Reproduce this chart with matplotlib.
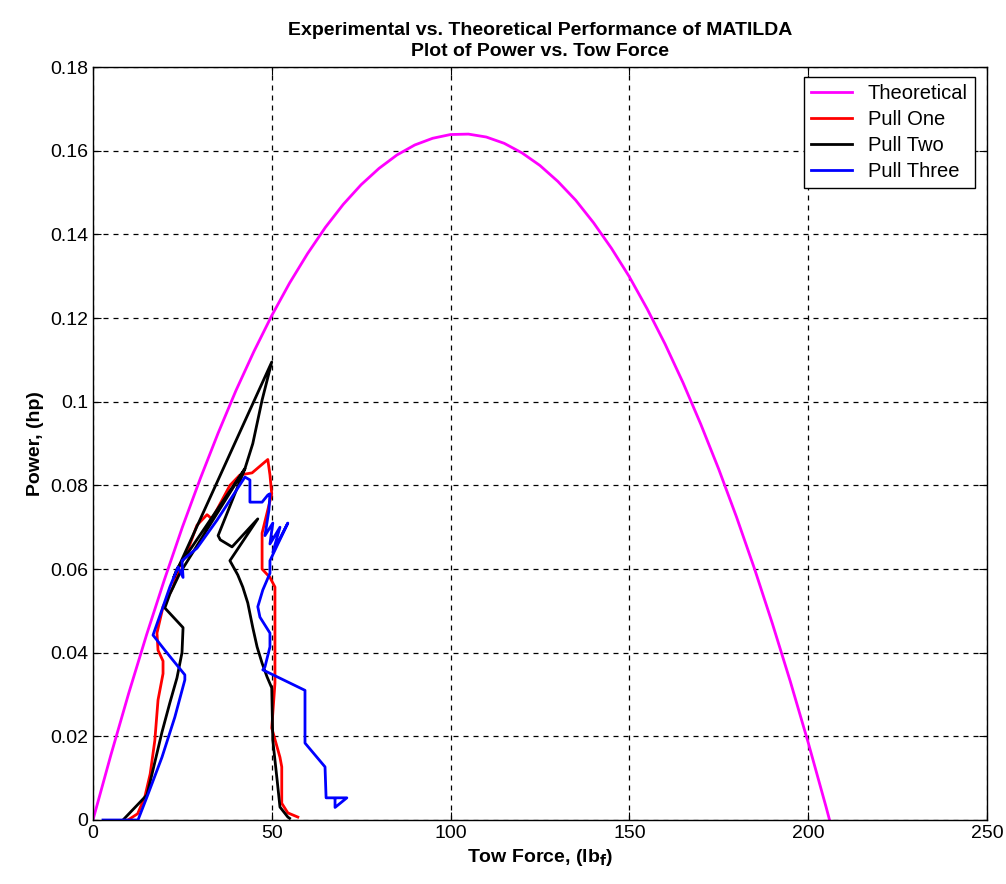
import matplotlib
matplotlib.use("Agg")
import matplotlib.pyplot as plt

plt.rcParams['font.family'] = ['Liberation Sans', 'DejaVu Sans']

# Theoretical curve
theo_force = [0, 5, 10, 15, 20, 25, 30, 35, 40, 45, 50, 55, 60, 65, 70, 75, 80, 85, 90, 95,
              100, 105, 110, 115, 120, 125, 130, 135, 140, 145, 150, 155, 160, 165, 170,
              175, 180, 185, 190, 195, 200, 205, 206]
theo_power = [0.0, 0.0155, 0.0303, 0.0443, 0.0575, 0.0700, 0.0816, 0.0925, 0.1027, 0.1120,
              0.1206, 0.1284, 0.1354, 0.1417, 0.1472, 0.1519, 0.1558, 0.1590, 0.1614, 0.1630,
              0.1639, 0.1640, 0.1633, 0.1618, 0.1595, 0.1565, 0.1527, 0.1482, 0.1428, 0.1367,
              0.1299, 0.1222, 0.1138, 0.1046, 0.0946, 0.0839, 0.0724, 0.0601, 0.0470, 0.0332,
              0.0186, 0.0032, 0.0]

# Pull one (red)
one_force = [9.8, 12.5, 14.5, 16.0, 17.3, 18.2, 19.6, 19.6, 18.2, 17.9, 19.6, 22.4, 24.3,
             26.3, 29.1, 31.9, 33.3, 38.3, 41.1, 44.5, 48.9, 49.5, 50.0, 47.3, 47.3, 49.5,
             50.9, 50.9, 50.0, 52.3, 52.8, 52.8, 54.5, 57.3]
one_power = [0.0, 0.0015, 0.0055, 0.011, 0.019, 0.0287, 0.035, 0.038, 0.0406, 0.0447, 0.051,
             0.0557, 0.061, 0.064, 0.0705, 0.073, 0.072, 0.080, 0.0825, 0.083, 0.0862, 0.0825,
             0.078, 0.0686, 0.060, 0.058, 0.0557, 0.0327, 0.022, 0.015, 0.0127, 0.004, 0.0017,
             0.0007]

# Pull two (black)
two_force = [8.4, 15.1, 16.8, 19.3, 21.5, 23.5, 24.9, 25.2, 20.1, 21.5, 24.3, 42.5, 44.7,
             47.3, 50.0, 22.6, 23.5, 42.5, 35.0, 35.6, 38.9, 46.1, 38.3, 40.5, 41.9, 43.3,
             44.7, 45.9, 47.3, 48.7, 50.0, 50.3, 51.5, 52.3, 54.5, 55.0]
two_power = [0.0, 0.006, 0.012, 0.021, 0.028, 0.034, 0.040, 0.046, 0.0507, 0.054, 0.059,
             0.084, 0.090, 0.1004, 0.1095, 0.058, 0.060, 0.084, 0.068, 0.067, 0.0653, 0.072,
             0.062, 0.0586, 0.0557, 0.0519, 0.046, 0.0414, 0.0375, 0.0342, 0.0316, 0.019,
             0.0096, 0.0031, 0.0007, 0.0004]

# Pull three (blue)
three_force = [2.8, 12.6, 15.1, 19.3, 22.9, 25.7, 25.7, 20.1, 16.8, 19.6, 21.5, 23.8, 25.2,
               24.9, 29.1, 34.7, 42.5, 43.9, 43.9, 47.3, 48.9, 49.5, 49.2, 48.1, 50.3, 49.5,
               52.3, 50.3, 54.5, 49.5, 49.5, 47.5, 46.1, 46.7, 49.5, 49.5, 48.1, 47.5, 59.3,
               59.3, 64.9, 65.2, 71.0, 67.7, 67.7]
three_power = [0.0, 0.0, 0.0055, 0.015, 0.0246, 0.0335, 0.0347, 0.0406, 0.0442, 0.051, 0.0557,
               0.0605, 0.058, 0.062, 0.065, 0.0717, 0.082, 0.0813, 0.076, 0.076, 0.0777, 0.078,
               0.074, 0.068, 0.071, 0.066, 0.070, 0.064, 0.071, 0.062, 0.059, 0.055, 0.051,
               0.0485, 0.0447, 0.0414, 0.0366, 0.0359, 0.031, 0.0184, 0.0127, 0.0053, 0.0053,
               0.003, 0.0048]

fig = plt.figure(figsize=(10.06, 8.84), dpi=100)
ax = fig.add_axes([0.0924, 0.0724, 0.8886, 0.8516])

lw = 2.0
ax.plot(theo_force, theo_power, color='#ff00ff', lw=lw, label='Theoretical')
ax.plot(one_force, one_power, color='#ff0000', lw=lw, label='Pull One')
ax.plot(two_force, two_power, color='black', lw=lw, label='Pull Two')
ax.plot(three_force, three_power, color='#0000ff', lw=lw, label='Pull Three')

ax.set_xlim(0, 250)
ax.set_ylim(0, 0.18)
ax.set_xticks([0, 50, 100, 150, 200, 250])
ax.set_yticks([0, 0.02, 0.04, 0.06, 0.08, 0.1, 0.12, 0.14, 0.16, 0.18])
ax.set_yticklabels(['0', '0.02', '0.04', '0.06', '0.08', '0.1', '0.12', '0.14', '0.16', '0.18'])
ax.grid(True, color='black', linestyle=(0, (4, 4)), linewidth=0.9)
ax.tick_params(direction='in', top=True, right=True, labelsize=14, length=6)
for s in ax.spines.values():
    s.set_linewidth(1.0)

ax.set_title('Experimental vs. Theoretical Performance of MATILDA\nPlot of Power vs. Tow Force',
             fontsize=14, fontweight='bold', pad=8, linespacing=1.35)
ax.set_xlabel('Tow Force, (lb$_\\mathbf{f}$)', fontsize=14, fontweight='bold')
ax.set_ylabel('Power, (hp)', fontsize=14, fontweight='bold')

leg = ax.legend(loc='upper right', fancybox=False, framealpha=1, edgecolor='black',
                prop={'size': 14.5}, handlelength=2.0,
                handletextpad=0.8, borderpad=0.35, labelspacing=0.35,
                bbox_to_anchor=(0.9866, 0.9867), borderaxespad=0)
leg.get_frame().set_linewidth(1.0)

fig.savefig('out.png', dpi=100)
